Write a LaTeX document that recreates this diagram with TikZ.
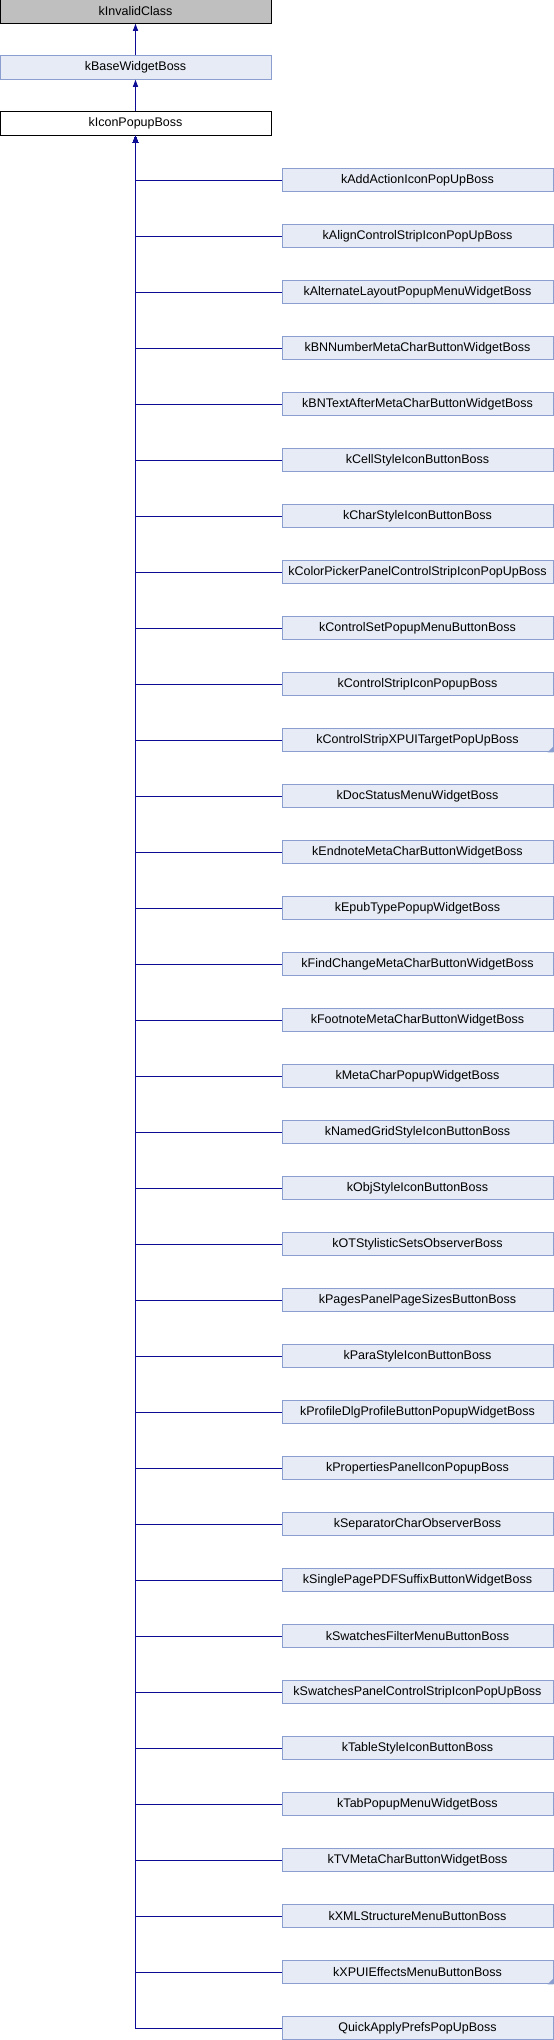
\documentclass[tikz,border=0pt]{standalone}
\usepackage{fontspec}
\setmainfont{Liberation Sans}
\usepackage{tikz}
\usetikzlibrary{arrows.meta}
\definecolor{edgeblue}{HTML}{0C0C94}
\definecolor{bossfill}{HTML}{E7EBF5}
\definecolor{bossline}{HTML}{8A9ECF}
\definecolor{rootfill}{HTML}{BFBFBF}

\begin{document}
\begin{tikzpicture}[x=1pt, y=-1pt,
    cls/.style={rectangle, draw, line width=1pt, minimum width=271pt, minimum height=23.5pt,
        inner sep=0pt, font=\fontsize{12.5}{14}\selectfont},
    boss/.style={cls, draw=bossline, fill=bossfill},
    rootcls/.style={cls, draw=black, fill=rootfill},
    maincls/.style={cls, draw=black, fill=white},
    inherit/.style={{Triangle[length=7pt, width=5pt]}-, line width=1pt, draw=edgeblue}]
            \useasboundingbox (0,0) rectangle (554,2040);

            \node[rootcls] at (135.5, 11.5)   (invalid) {kInvalidClass};
            \node[boss]    at (135.5, 67.5)   (basewidget) {kBaseWidgetBoss};
            \node[maincls] at (135.5, 123.5)  (iconpopup) {kIconPopupBoss};

            \node[boss] at (417.5, 180)   (c1)  {kAddActionIconPopUpBoss};
            \node[boss] at (417.5, 236)   (c2)  {kAlignControlStripIconPopUpBoss};
            \node[boss] at (417.5, 292)   (c3)  {kAlternateLayoutPopupMenuWidgetBoss};
            \node[boss] at (417.5, 348)   (c4)  {kBNNumberMetaCharButtonWidgetBoss};
            \node[boss] at (417.5, 404)   (c5)  {kBNTextAfterMetaCharButtonWidgetBoss};
            \node[boss] at (417.5, 460)   (c6)  {kCellStyleIconButtonBoss};
            \node[boss] at (417.5, 516)   (c7)  {kCharStyleIconButtonBoss};
            \node[boss] at (417.5, 572)   (c8)  {kColorPickerPanelControlStripIconPopUpBoss};
            \node[boss] at (417.5, 628)   (c9)  {kControlSetPopupMenuButtonBoss};
            \node[boss] at (417.5, 684)   (c10) {kControlStripIconPopupBoss};
            \node[boss] at (417.5, 740)   (c11) {kControlStripXPUITargetPopUpBoss};
            \node[boss] at (417.5, 796)   (c12) {kDocStatusMenuWidgetBoss};
            \node[boss] at (417.5, 852)   (c13) {kEndnoteMetaCharButtonWidgetBoss};
            \node[boss] at (417.5, 908)   (c14) {kEpubTypePopupWidgetBoss};
            \node[boss] at (417.5, 964)   (c15) {kFindChangeMetaCharButtonWidgetBoss};
            \node[boss] at (417.5, 1020)  (c16) {kFootnoteMetaCharButtonWidgetBoss};
            \node[boss] at (417.5, 1076)  (c17) {kMetaCharPopupWidgetBoss};
            \node[boss] at (417.5, 1132)  (c18) {kNamedGridStyleIconButtonBoss};
            \node[boss] at (417.5, 1188)  (c19) {kObjStyleIconButtonBoss};
            \node[boss] at (417.5, 1244)  (c20) {kOTStylisticSetsObserverBoss};
            \node[boss] at (417.5, 1300)  (c21) {kPagesPanelPageSizesButtonBoss};
            \node[boss] at (417.5, 1356)  (c22) {kParaStyleIconButtonBoss};
            \node[boss] at (417.5, 1412)  (c23) {kProfileDlgProfileButtonPopupWidgetBoss};
            \node[boss] at (417.5, 1468)  (c24) {kPropertiesPanelIconPopupBoss};
            \node[boss] at (417.5, 1524)  (c25) {kSeparatorCharObserverBoss};
            \node[boss] at (417.5, 1580)  (c26) {kSinglePagePDFSuffixButtonWidgetBoss};
            \node[boss] at (417.5, 1636)  (c27) {kSwatchesFilterMenuButtonBoss};
            \node[boss] at (417.5, 1692)  (c28) {kSwatchesPanelControlStripIconPopUpBoss};
            \node[boss] at (417.5, 1748)  (c29) {kTableStyleIconButtonBoss};
            \node[boss] at (417.5, 1804)  (c30) {kTabPopupMenuWidgetBoss};
            \node[boss] at (417.5, 1860)  (c31) {kTVMetaCharButtonWidgetBoss};
            \node[boss] at (417.5, 1916)  (c32) {kXMLStructureMenuButtonBoss};
            \node[boss] at (417.5, 1972)  (c33) {kXPUIEffectsMenuButtonBoss};
            \node[boss] at (417.5, 2028)  (c34) {QuickApplyPrefsPopUpBoss};

            % folded corners
            \fill[bossline] (c11.south east) -- ++(0,-6) -- ++(-6,6) -- cycle;
            \fill[bossline] (c33.south east) -- ++(0,-6) -- ++(-6,6) -- cycle;

            \draw [inherit] (invalid) -- (basewidget);
            \draw [inherit] (basewidget) -- (iconpopup);
            \foreach \i in {1,...,34}
                \draw [inherit] (iconpopup.south) |- (c\i.west);
        \end{tikzpicture}
\end{document}
